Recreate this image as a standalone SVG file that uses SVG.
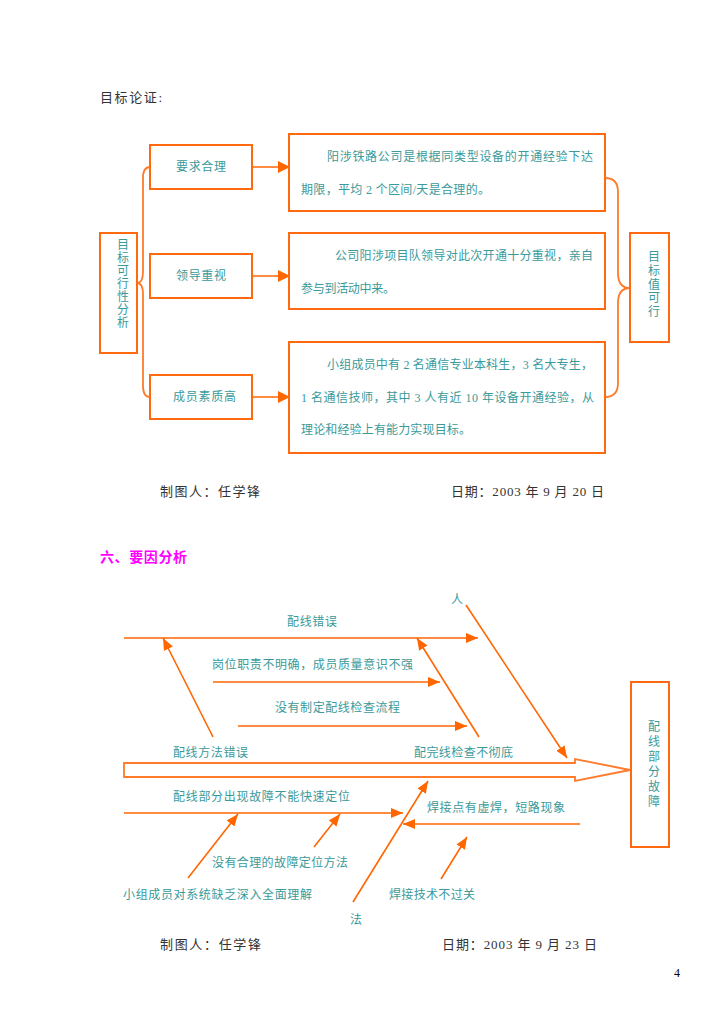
<svg xmlns="http://www.w3.org/2000/svg" width="725" height="1024" viewBox="0 0 725 1024">
<style>
.t{font-family:"Liberation Serif","Noto Sans CJK SC",serif;font-size:12px;fill:#3a9a9a;dominant-baseline:central}
.k{font-family:"Liberation Serif","Noto Sans CJK SC",serif;font-size:13px;fill:#333;dominant-baseline:central}
.box{fill:#fff;stroke:#ff6a10;stroke-width:2}
.ln{fill:none;stroke:#ff6600;stroke-width:1.6}
.br{fill:none;stroke:#ff7a2a;stroke-width:1.8}
</style>
<defs>
<marker id="ah" viewBox="0 0 12 10" refX="12" refY="5" markerWidth="12" markerHeight="10" orient="auto" markerUnits="userSpaceOnUse"><path d="M0,0 L12,5 L0,10 z" fill="#ff6600"/></marker>
<marker id="ah2" viewBox="0 0 12 12" refX="12" refY="6" markerWidth="12" markerHeight="12" orient="auto" markerUnits="userSpaceOnUse"><path d="M0,0 L12,6 L0,12 z" fill="#ff6600"/></marker>
</defs>
<rect width="725" height="1024" fill="#fff"/>

<text class="k" x="100" y="97" font-size="14" textLength="62" lengthAdjust="spacing">目标论证:</text>

<g id="connectors-top">
<path class="br" d="M150,167 Q143,167 143,178 L143,272 Q143,283 137,283 Q143,283 143,294 L143,386 Q143,397 150,397"/>
<path class="br" d="M605,178 Q618,178 618,192 L618,273 Q618,288 630,288 Q618,288 618,303 L618,383 Q618,397 605,397"/>
<line class="ln" x1="252" y1="167" x2="290" y2="167" marker-end="url(#ah2)"/>
<line class="ln" x1="252" y1="276" x2="290" y2="276" marker-end="url(#ah2)"/>
<line class="ln" x1="252" y1="397" x2="290" y2="397" marker-end="url(#ah2)"/>
</g>

<g id="node-left">
<rect class="box" x="100" y="233" width="37" height="120"/>
<text class="t"><tspan x="117" y="245">目</tspan><tspan x="117" y="258">标</tspan><tspan x="117" y="271">可</tspan><tspan x="117" y="284">行</tspan><tspan x="117" y="297">性</tspan><tspan x="117" y="310">分</tspan><tspan x="117" y="323">析</tspan></text>
</g>
<g id="node-r1">
<rect class="box" x="150" y="145" width="102" height="44"/>
<text class="t" x="176" y="167" textLength="50" lengthAdjust="spacing">要求合理</text>
</g>
<g id="node-r2">
<rect class="box" x="150" y="254" width="102" height="44"/>
<text class="t" x="176" y="276" textLength="50" lengthAdjust="spacing">领导重视</text>
</g>
<g id="node-r3">
<rect class="box" x="150" y="375" width="102" height="44"/>
<text class="t" x="173" y="397" textLength="63" lengthAdjust="spacing">成员素质高</text>
</g>
<g id="node-d1">
<rect class="box" x="289" y="134" width="316" height="77"/>
<text class="t" x="327" y="157" textLength="266" lengthAdjust="spacing">阳涉铁路公司是根据同类型设备的开通经验下达</text>
<text class="t" x="301" y="190" textLength="189" lengthAdjust="spacing">期限，平均 2 个区间/天是合理的。</text>
</g>
<g id="node-d2">
<rect class="box" x="289" y="233" width="316" height="76"/>
<text class="t" x="335" y="256" textLength="258" lengthAdjust="spacing">公司阳涉项目队领导对此次开通十分重视，亲自</text>
<text class="t" x="301" y="289" textLength="94" lengthAdjust="spacing">参与到活动中来。</text>
</g>
<g id="node-d3">
<rect class="box" x="289" y="342" width="316" height="111"/>
<text class="t" x="327" y="365" textLength="266" lengthAdjust="spacing">小组成员中有 2 名通信专业本科生，3 名大专生，</text>
<text class="t" x="301" y="398" textLength="293" lengthAdjust="spacing">1 名通信技师，其中 3 人有近 10 年设备开通经验，从</text>
<text class="t" x="301" y="430" textLength="170" lengthAdjust="spacing">理论和经验上有能力实现目标。</text>
</g>
<g id="node-goal">
<rect class="box" x="630" y="233" width="39" height="109"/>
<text class="t"><tspan x="648" y="257">目</tspan><tspan x="648" y="271">标</tspan><tspan x="648" y="285">值</tspan><tspan x="648" y="298">可</tspan><tspan x="648" y="312">行</tspan></text>
</g>

<text class="k" x="160" y="491" textLength="100" lengthAdjust="spacing">制图人：任学锋</text>
<text class="k" x="451" y="491" textLength="153" lengthAdjust="spacing">日期：2003 年 9 月 20 日</text>

<text x="100" y="557" font-family="Liberation Sans,Noto Sans CJK SC,sans-serif" font-size="14" font-weight="bold" fill="#ff00ff" dominant-baseline="central" textLength="87" lengthAdjust="spacing">六、要因分析</text>

<g id="connectors-fishbone">
<line class="ln" x1="466" y1="605" x2="567" y2="758" marker-end="url(#ah)"/>
<line class="ln" x1="124" y1="638" x2="478" y2="638" marker-end="url(#ah)"/>
<line class="ln" x1="213" y1="737" x2="163" y2="638" marker-end="url(#ah)"/>
<line class="ln" x1="479" y1="737" x2="417" y2="638" marker-end="url(#ah)"/>
<line class="ln" x1="213" y1="682" x2="440" y2="682" marker-end="url(#ah)"/>
<line class="ln" x1="238" y1="726" x2="467" y2="726" marker-end="url(#ah)"/>
<polygon points="124,763 575,763 575,759 630,770 575,781 575,777 124,777" fill="#fff" stroke="#ff7a2a" stroke-width="1.8"/>
<line class="ln" x1="124" y1="813" x2="403" y2="813" marker-end="url(#ah)"/>
<line class="ln" x1="188" y1="878" x2="238" y2="814" marker-end="url(#ah)"/>
<line class="ln" x1="314" y1="847" x2="340" y2="814" marker-end="url(#ah)"/>
<line class="ln" x1="353" y1="902" x2="428" y2="781" marker-end="url(#ah)"/>
<line class="ln" x1="580" y1="824" x2="403" y2="824" marker-end="url(#ah)"/>
<line class="ln" x1="441" y1="879" x2="467" y2="837" marker-end="url(#ah)"/>
</g>

<g id="fish-labels">
<text class="t" x="457" y="600" text-anchor="middle">人</text>
<text class="t" x="287" y="622" textLength="50" lengthAdjust="spacing">配线错误</text>
<text class="t" x="212" y="665" textLength="201" lengthAdjust="spacing">岗位职责不明确，成员质量意识不强</text>
<text class="t" x="275" y="708" textLength="125" lengthAdjust="spacing">没有制定配线检查流程</text>
<text class="t" x="173" y="753" textLength="75" lengthAdjust="spacing">配线方法错误</text>
<text class="t" x="414" y="753" textLength="99" lengthAdjust="spacing">配完线检查不彻底</text>
<text class="t" x="173" y="797" textLength="177" lengthAdjust="spacing">配线部分出现故障不能快速定位</text>
<text class="t" x="212" y="863" textLength="136" lengthAdjust="spacing">没有合理的故障定位方法</text>
<text class="t" x="123" y="895" textLength="189" lengthAdjust="spacing">小组成员对系统缺乏深入全面理解</text>
<text class="t" x="427" y="808" textLength="138" lengthAdjust="spacing">焊接点有虚焊，短路现象</text>
<text class="t" x="389" y="895" textLength="86" lengthAdjust="spacing">焊接技术不过关</text>
<text class="t" x="356" y="920" text-anchor="middle">法</text>
</g>

<g id="node-fault">
<rect class="box" x="631" y="682" width="38" height="165"/>
<text class="t" font-size="14"><tspan x="648" y="727">配</tspan><tspan x="648" y="742">线</tspan><tspan x="648" y="757">部</tspan><tspan x="648" y="772">分</tspan><tspan x="648" y="787">故</tspan><tspan x="648" y="802">障</tspan></text>
</g>

<text class="k" x="160" y="944" textLength="101" lengthAdjust="spacing">制图人：任学锋</text>
<text class="k" x="442" y="944" textLength="155" lengthAdjust="spacing">日期：2003 年 9 月 23 日</text>
<text x="674" y="973" font-family="Liberation Serif,serif" font-size="12" fill="#000" dominant-baseline="central">4</text>
</svg>
